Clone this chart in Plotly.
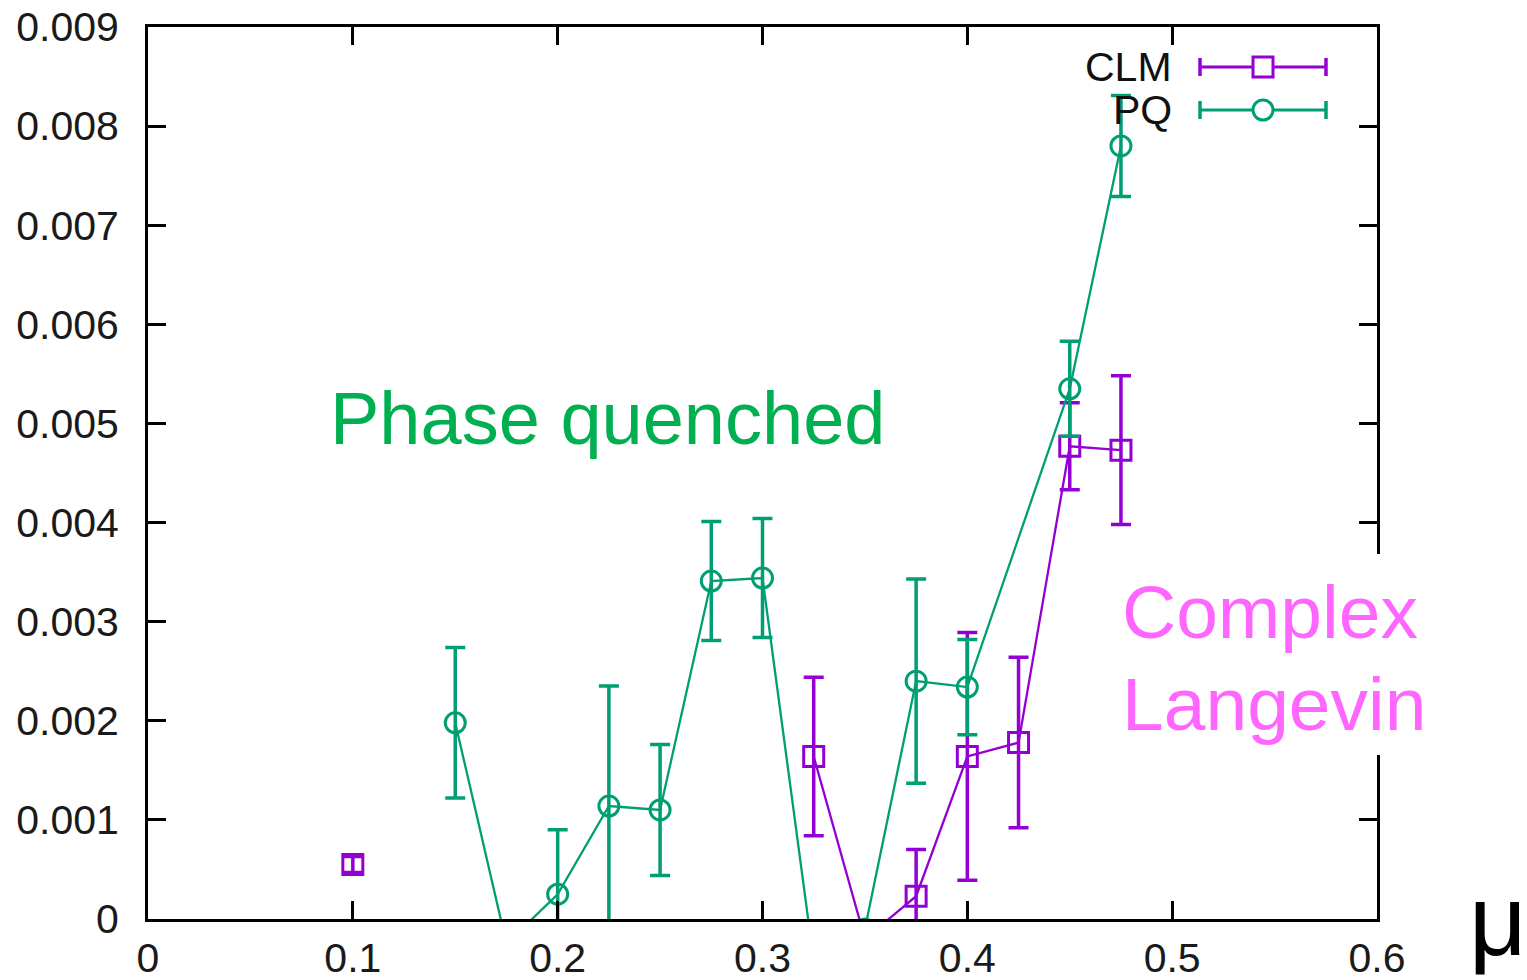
import plotly.graph_objects as go

# ---- data ----
pq_x = [0.15, 0.175, 0.2, 0.225, 0.25, 0.275, 0.3, 0.325, 0.35, 0.375, 0.4, 0.45, 0.475]
pq_y = [0.00198, -0.00025, 0.00025, 0.00114, 0.00110, 0.00341, 0.00344, -0.00042, -0.0001,
        0.0024, 0.00234, 0.00535, 0.0078]
pq_err = [0.00076, 0.0002, 0.00065, 0.00121, 0.00066, 0.0006, 0.0006, 0.0003, 0.00005,
          0.00103, 0.00048, 0.00048, 0.00051]

clm_x = [0.1, 0.125, 0.325, 0.35, 0.375, 0.4, 0.425, 0.45, 0.475]
clm_y = [0.00055, None, 0.00164, -0.0002, 0.00023, 0.00164, 0.00178, 0.00477, 0.00473]
clm_err = [0.00008, None, 0.0008, 0.0001, 0.00047, 0.00125, 0.00086, 0.00044, 0.00075]

x_ticks = [0, 0.1, 0.2, 0.3, 0.4, 0.5, 0.6]
x_ticktext = ["0", "0.1", "0.2", "0.3", "0.4", "0.5", "0.6"]
y_ticks = [0, 0.001, 0.002, 0.003, 0.004, 0.005, 0.006, 0.007, 0.008, 0.009]
y_ticktext = ["0", "0.001", "0.002", "0.003", "0.004", "0.005", "0.006", "0.007", "0.008", "0.009"]

CLM_COLOR = "#9400d3"
PQ_COLOR = "#009e73"

W, H = 1527, 980
L, R, T, B = 148, 1377, 27, 919


def px(x):
    return (x - L) / (R - L)


def py(y):
    return (B - y) / (B - T)


fig = go.Figure()
fig.add_trace(go.Scatter(
    x=clm_x, y=clm_y, mode="lines+markers", name="CLM", connectgaps=False,
    line=dict(color=CLM_COLOR, width=2.3),
    marker=dict(symbol="square-open", size=20, color=CLM_COLOR, line=dict(width=3, color=CLM_COLOR)),
    error_y=dict(type="data", array=clm_err, visible=True, color=CLM_COLOR, thickness=3.5, width=10),
    cliponaxis=True,
))
fig.add_trace(go.Scatter(
    x=pq_x, y=pq_y, mode="lines+markers", name="PQ",
    line=dict(color=PQ_COLOR, width=2.3),
    marker=dict(symbol="circle-open", size=20, color=PQ_COLOR, line=dict(width=3, color=PQ_COLOR)),
    error_y=dict(type="data", array=pq_err, visible=True, color=PQ_COLOR, thickness=3.5, width=10),
    cliponaxis=True,
))

font_family = "Liberation Sans, Arial, Helvetica, sans-serif"

shapes = []
annotations = []

# legend (manual, gnuplot style)
for label, color, ycen, sym in [("CLM", CLM_COLOR, 67, "square"), ("PQ", PQ_COLOR, 110, "circle")]:
    shapes.append(dict(type="line", xref="paper", yref="paper", x0=px(1200), x1=px(1326),
                       y0=py(ycen), y1=py(ycen), line=dict(color=color, width=3)))
    for xe in (1200, 1326):
        shapes.append(dict(type="line", xref="paper", yref="paper", x0=px(xe), x1=px(xe),
                           y0=py(ycen - 9), y1=py(ycen + 9), line=dict(color=color, width=3.5)))
    shapes.append(dict(type="rect" if sym == "square" else "circle", xref="paper", yref="paper",
                       x0=px(1253), x1=px(1273), y0=py(ycen - 10), y1=py(ycen + 10),
                       fillcolor="white", line=dict(color=color, width=3)))
    annotations.append(dict(text=label, xref="paper", yref="paper", x=px(1174), y=py(ycen),
                            xanchor="right", yanchor="middle", showarrow=False,
                            font=dict(size=41, color="#111111", family=font_family)))

# white box hiding right border behind the "Complex Langevin" text
shapes.append(dict(type="rect", xref="paper", yref="paper", x0=px(1112), x1=px(1432),
                   y0=py(755), y1=py(554), fillcolor="white", line=dict(width=0), layer="above"))

annotations.append(dict(text="Phase quenched", xref="paper", yref="paper", x=px(607), y=py(418),
                        xanchor="center", yanchor="middle", showarrow=False,
                        font=dict(size=74, color="#00b050", family=font_family)))
annotations.append(dict(text="Complex", xref="paper", yref="paper", x=px(1120), y=py(612),
                        xanchor="left", yanchor="middle", showarrow=False,
                        font=dict(size=75, color="#ff66ff", family=font_family)))
annotations.append(dict(text="Langevin", xref="paper", yref="paper", x=px(1120), y=py(704),
                        xanchor="left", yanchor="middle", showarrow=False,
                        font=dict(size=75, color="#ff66ff", family=font_family)))
annotations.append(dict(text="μ", xref="paper", yref="paper", x=px(1498), y=py(920),
                        xanchor="center", yanchor="middle", showarrow=False,
                        font=dict(size=100, color="black", family=font_family)))

axis_common = dict(
    showgrid=False, zeroline=False, showline=True, linecolor="black", linewidth=3,
    mirror="ticks", ticks="inside", ticklen=18, tickwidth=2.5, tickcolor="black",
    tickfont=dict(size=41, color="#1a1a1a", family=font_family),
    automargin=False,
)

fig.update_layout(
    template="none",
    width=W, height=H,
    margin=dict(l=L, r=W - R, t=T, b=H - B, pad=0),
    paper_bgcolor="white", plot_bgcolor="white",
    showlegend=False,
    xaxis=dict(range=[0, 0.6], tickvals=x_ticks, ticktext=x_ticktext, ticklabelstandoff=1,
               **axis_common),
    yaxis=dict(range=[0, 0.009], tickvals=y_ticks, ticktext=y_ticktext, ticklabelstandoff=18,
               **axis_common),
    shapes=shapes,
    annotations=annotations,
)

fig.write_html("out.html")
